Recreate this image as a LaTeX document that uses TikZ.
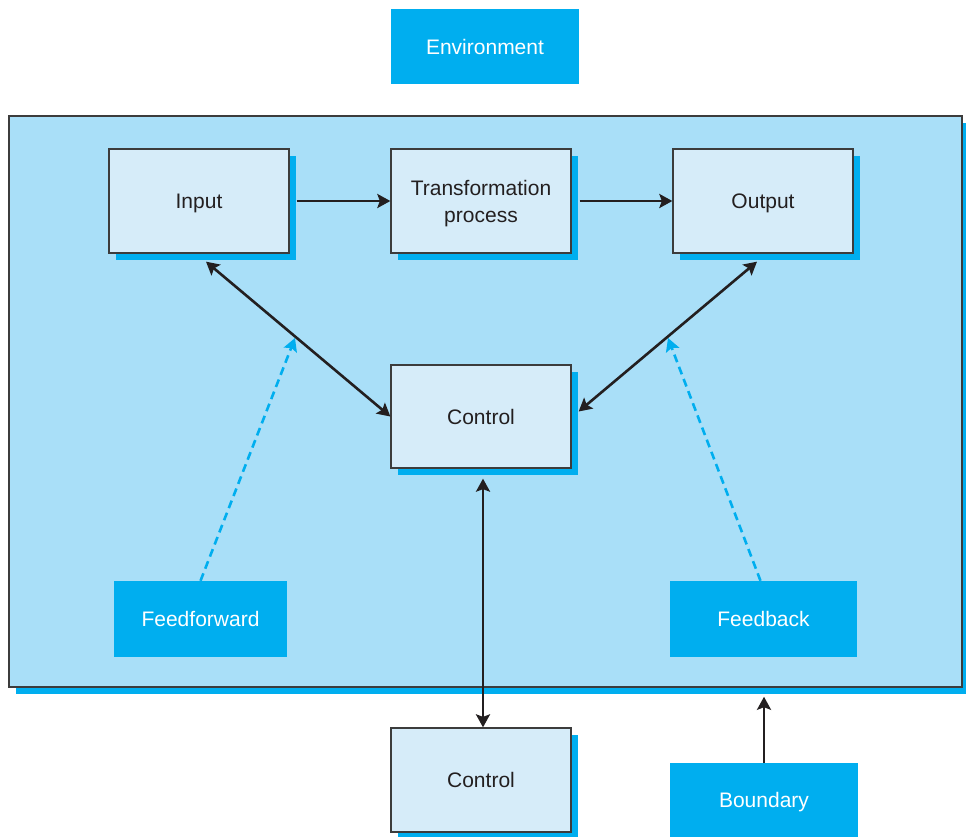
\documentclass[tikz,border=0pt]{standalone}
\usepackage{fontspec}
\setmainfont{Liberation Sans}
\usetikzlibrary{arrows.meta,calc,shadows}

\definecolor{framefill}{HTML}{A9DFF8}
\definecolor{boxfill}{HTML}{D6ECF9}
\definecolor{accent}{HTML}{00AEEF}
\definecolor{ink}{HTML}{231F20}
\definecolor{edge}{HTML}{3C3C3C}

\tikzset{
  every node/.style={font=\fontsize{21}{27}\selectfont, align=center,
    text height=15pt, text depth=0pt},
  procbox/.style={draw=edge, line width=1.3pt, fill=boxfill, text=ink,
    minimum width=180pt, minimum height=104pt, inner sep=0pt,
    drop shadow={shadow xshift=7pt, shadow yshift=-7pt, fill=accent, opacity=1}},
  tagbox/.style={fill=accent, text=white, inner sep=0pt},
  link/.style={draw=ink, line width=2.6pt, -{Stealth[length=13pt,width=14pt,inset=2.5pt]}},
  twoway/.style={draw=ink, line width=2.6pt,
    {Stealth[length=13pt,width=14pt,inset=2.5pt]}-{Stealth[length=13pt,width=14pt,inset=2.5pt]}},
  hint/.style={draw=accent, line width=2.6pt, dash pattern=on 8pt off 5pt,
    -{Stealth[length=13pt,width=14pt,inset=2.5pt]}},
}

\begin{document}
\begin{tikzpicture}[x=1pt, y=-1pt]
  \useasboundingbox (0,0) rectangle (966,836);

  % system boundary with its shadow
  \node[draw=edge, line width=1.5pt, fill=framefill, minimum width=953pt,
        minimum height=571pt, inner sep=0pt,
        drop shadow={shadow xshift=7pt, shadow yshift=-7pt, fill=accent, opacity=1}]
        (frame) at (485.5,401.5) {};

  % labels outside the system
  \node[tagbox, minimum width=188pt, minimum height=75pt] (env) at (485,46.5) {Environment};
  \node[tagbox, minimum width=188pt, minimum height=74pt] (boundary) at (764,800) {Boundary};

  % process boxes
  \node[procbox] (input)  at (199,201) {Input};
  \node[procbox, text height=42pt] (trans) at (481,201) {Transformation\\process};
  \node[procbox] (output) at (763,201) {Output};
  \node[procbox, minimum height=103pt] (control) at (481,416.5) {Control};
  \node[procbox] (control2) at (481,780) {Control};

  % feed labels inside the system
  \node[tagbox, minimum width=173pt, minimum height=76pt] (ffwd) at (200.5,619) {Feedforward};
  \node[tagbox, minimum width=187pt, minimum height=76pt] (fback) at (763.5,619) {Feedback};

  % main flow
  \draw[link] ($(input.east)+(7,0)$) -- (trans.west);
  \draw[link] ($(trans.east)+(8,0)$) -- (output.west);

  % control links
  \draw[twoway] ($(input.south)+(7,8)$) -- (control.west);
  \draw[twoway] ($(control.east)+(7,-5)$) -- ($(output.south)+(-6,8)$);
  \draw[twoway] ($(control.south)+(2,10)$) -- ($(control2.north)+(2,0)$);

  % boundary pointer
  \draw[link] (boundary.north) -- ($(frame.south -| boundary.north)+(0,9)$);

  % feedforward / feedback hints
  \coordinate (ffTip) at (295,338);
  \coordinate (fbTip) at (668,338);
  \draw[hint] (ffwd.north) -- (ffTip);
  \draw[hint] ($(fback.north)+(-3,0)$) -- (fbTip);
\end{tikzpicture}
\end{document}
